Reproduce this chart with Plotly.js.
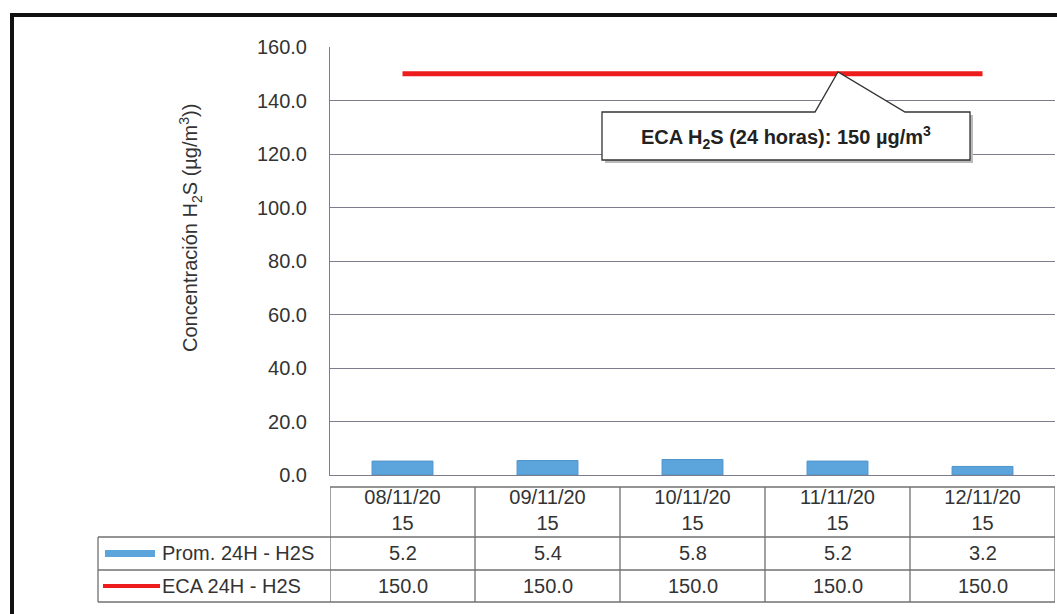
<!DOCTYPE html>
<html>
<head>
<meta charset="utf-8">
<script src="https://cdn.plot.ly/plotly-3.0.1.min.js"></script>
<style>
  html, body { margin: 0; padding: 0; background: #fff; }
  #chart { width: 1057px; height: 614px; }
</style>
</head>
<body>
<div id="chart"></div>
<script>
// data
const fechas = ['08/11/2015', '09/11/2015', '10/11/2015', '11/11/2015', '12/11/2015'];
const tickTexto = ['08/11/20<br>15', '09/11/20<br>15', '10/11/20<br>15', '11/11/20<br>15', '12/11/20<br>15'];
const promH2S = [5.2, 5.4, 5.8, 5.2, 3.2];
const ecaH2S = [150.0, 150.0, 150.0, 150.0, 150.0];
const nombreProm = 'Prom. 24H - H2S';
const nombreEca = 'ECA 24H - H2S';
const textoEca = '<b>ECA H<sub>2</sub>S (24 horas): 150 µg/m<sup>3</sup></b>';
const tituloY = 'Concentración H<sub>2</sub>S (µg/m<sup>3</sup>))';

const W = 1057, H = 614;
const L = 330, R = 2, T = 47, B = 139;
const pw = W - L - R, ph = H - T - B;
// pixel -> paper helpers
const px = v => (v - L) / pw;
const py = v => (H - B - v) / ph;

const azul = '#5ba4dc';
const rojo = '#ee1c1c';
const gris = '#707070';
const texto = '#333';
const fuente = 'Arial, "Liberation Sans", sans-serif';
const fs = 20;

const barras = {
  x: fechas,
  y: promH2S,
  type: 'bar',
  width: 0.42,
  marker: { color: azul, line: { color: '#4f93c9', width: 1 } },
  name: nombreProm
};

const limite = {
  x: fechas,
  y: ecaH2S,
  type: 'scatter',
  mode: 'lines',
  line: { color: rojo, width: 5 },
  name: nombreEca
};

const shapes = [];
const annotations = [];

// outer frame
shapes.push({ type: 'rect', xref: 'paper', yref: 'paper',
  x0: px(12), x1: px(1075), y0: py(15), y1: py(640),
  line: { color: '#111', width: 4 } });

// data table lines
const lineaT = { color: gris, width: 1.3 };
shapes.push({ type: 'line', xref: 'paper', yref: 'paper', x0: 0, x1: 1, y0: py(487), y1: py(487), line: lineaT });
[537, 570, 602].forEach(yy => {
  shapes.push({ type: 'line', xref: 'paper', yref: 'paper', x0: px(98), x1: 1, y0: py(yy), y1: py(yy), line: lineaT });
});
shapes.push({ type: 'line', xref: 'paper', yref: 'paper', x0: px(98), x1: px(98), y0: py(537), y1: py(602), line: lineaT });
for (let i = 0; i <= fechas.length; i++) {
  shapes.push({ type: 'line', xref: 'x', yref: 'paper', x0: i - 0.5, x1: i - 0.5, y0: py(487), y1: py(602), line: lineaT });
}

// legend keys inside the table
shapes.push({ type: 'rect', xref: 'paper', yref: 'paper', x0: px(105), x1: px(155), y0: py(557), y1: py(550),
  fillcolor: azul, line: { width: 0 } });
shapes.push({ type: 'line', xref: 'paper', yref: 'paper', x0: px(103), x1: px(160), y0: py(586), y1: py(586),
  line: { color: rojo, width: 4 } });
annotations.push({ xref: 'paper', yref: 'paper', x: px(160), y: py(553), xanchor: 'left', yanchor: 'middle',
  text: nombreProm, showarrow: false, font: { size: fs, color: texto } });
annotations.push({ xref: 'paper', yref: 'paper', x: px(160), y: py(586), xanchor: 'left', yanchor: 'middle',
  text: nombreEca, showarrow: false, font: { size: fs, color: texto } });

// table values
fechas.forEach((f, i) => {
  annotations.push({ xref: 'x', yref: 'paper', x: f, y: py(553), yanchor: 'middle', showarrow: false,
    text: promH2S[i].toFixed(1), font: { size: fs, color: texto } });
  annotations.push({ xref: 'x', yref: 'paper', x: f, y: py(586), yanchor: 'middle', showarrow: false,
    text: ecaH2S[i].toFixed(1), font: { size: fs, color: texto } });
});

// y title (sits above the plot centre in the original)
annotations.push({ xref: 'paper', yref: 'paper', x: px(191), y: py(228), xanchor: 'center', yanchor: 'middle',
  textangle: -90, text: tituloY, showarrow: false, font: { size: fs, color: texto } });

// callout box for the ECA line
const callout = [[602, 112], [815, 112], [838, 72], [905, 112], [970, 112], [970, 160], [602, 160]];
const camino = pts => 'M ' + pts.map(p => px(p[0]) + ',' + py(p[1])).join(' L ') + ' Z';
shapes.push({ type: 'path', xref: 'paper', yref: 'paper',
  path: camino([[605, 115], [973, 115], [973, 163], [605, 163]]),
  fillcolor: '#bbb', line: { width: 0 } });
shapes.push({ type: 'path', xref: 'paper', yref: 'paper', path: camino(callout),
  fillcolor: '#fff', line: { color: '#333', width: 1.3 } });
annotations.push({ xref: 'paper', yref: 'paper', x: px(786), y: py(137), xanchor: 'center', yanchor: 'middle',
  text: textoEca, showarrow: false, font: { size: fs, color: '#222' } });

const layout = {
  width: W,
  height: H,
  margin: { l: L, r: R, t: T, b: B },
  paper_bgcolor: '#fff',
  plot_bgcolor: '#fff',
  font: { family: fuente, size: fs, color: texto },
  showlegend: false,
  xaxis: {
    type: 'category',
    range: [-0.5, fechas.length - 0.5],
    tickvals: fechas,
    ticktext: tickTexto,
    ticks: '',
    showgrid: false,
    showline: true,
    linecolor: '#7c7c8c',
    linewidth: 1,
    ticklabelstandoff: 4,
    tickfont: { size: fs, color: texto },
    fixedrange: true
  },
  yaxis: {
    range: [0, 160],
    dtick: 20,
    tickformat: '.1f',
    showgrid: true,
    gridcolor: '#7c7c8c',
    gridwidth: 1,
    zeroline: false,
    showline: true,
    linecolor: '#7c7c8c',
    ticks: '',
    ticklabelstandoff: 18,
    tickfont: { size: fs, color: texto },
    fixedrange: true
  },
  shapes: shapes,
  annotations: annotations
};

Plotly.newPlot('chart', [barras, limite], layout, { displayModeBar: false, staticPlot: true });
</script>
</body>
</html>
